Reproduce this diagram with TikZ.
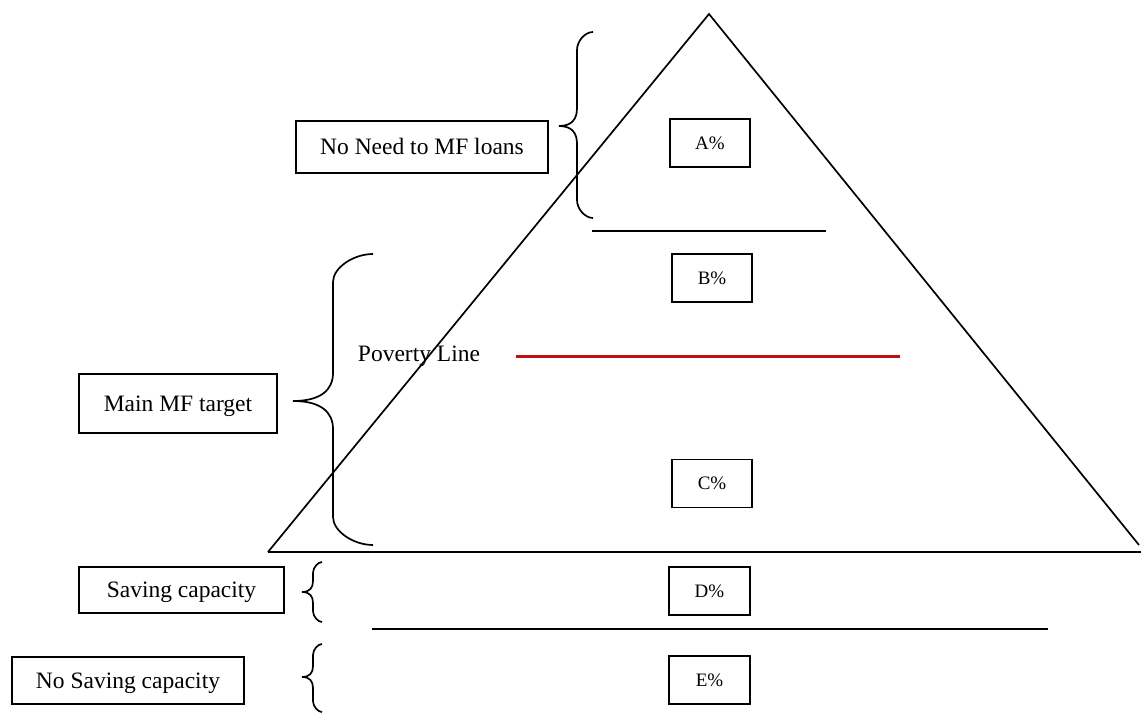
\documentclass[tikz,border=0pt]{standalone}
\usepackage{fontspec}
\setmainfont{Liberation Serif}
\definecolor{povred}{RGB}{190,16,16}
\newcommand{\mybrace}[8]{% xe xv xt ytop ytip ybot rx ry
  \draw[bracestyle] (#1,#4) .. controls (#2+0.5*#7,#4) and (#2,#4+0.5*#8) .. (#2,#4+#8) -- (#2,#5-#8)
    .. controls (#2,#5-0.4*#8) and (#2-0.3*#7,#5) .. (#3,#5) .. controls (#2-0.3*#7,#5) and (#2,#5+0.4*#8) .. (#2,#5+#8)
    -- (#2,#6-#8) .. controls (#2,#6-0.5*#8) and (#2+0.5*#7,#6) .. (#1,#6);}
\begin{document}
\begin{tikzpicture}[x=1pt,y=-1pt,
  every node/.style={inner sep=0pt},
  bigtext/.style={font=\fontsize{23.5}{28}\selectfont,text height=15.6pt,text depth=0pt},
  bigbox/.style={bigtext,draw,line width=1.7pt},
  pctbox/.style={draw,line width=1.7pt,minimum width=80pt,minimum height=48pt,font=\fontsize{19}{22}\selectfont,text height=12.6pt,text depth=0pt},
  plain/.style={line width=1.7pt},
  bracestyle/.style={line width=1.7pt},
  povline/.style={line width=3pt,draw=povred}]
\useasboundingbox (0,0) rectangle (1141,719);
% triangle
\coordinate (apex) at (709,14);
\coordinate (bl) at (268,552);
\coordinate (br) at (1141,552);
\coordinate (brtip) at (1139,545);
\draw[plain] (bl) -- (apex) -- (brtip);
\draw[plain] (bl) -- (br);
% divider lines
\coordinate (l1a) at (592,231); \coordinate (l1b) at (826,231);
\draw[plain] (l1a) -- (l1b);
\coordinate (pla) at (516,356.5); \coordinate (plb) at (900,356.5);
\draw[povline] (pla) -- (plb);
\coordinate (l2a) at (372,629); \coordinate (l2b) at (1048,629);
\draw[plain] (l2a) -- (l2b);
% percentage boxes
\node[pctbox] (A) at (710,143) {A\%};
\node[pctbox] (B) at (712,278) {B\%};
\node[pctbox] (C) at (712,483.5) {C\%};
\node[pctbox,minimum width=81pt] (D) at (709.5,591) {D\%};
\node[pctbox,minimum width=81pt] (E) at (709.5,680) {E\%};
% labels
\node[bigbox,minimum width=252pt,minimum height=52pt] (noneed) at (422,147) {No Need to MF loans};
\node[bigbox,minimum width=198pt,minimum height=59pt] (main) at (178,403.5) {Main MF target};
\node[bigbox,minimum width=205pt,minimum height=46pt] (saving) at (181.5,590) {Saving capacity};
\node[bigbox,minimum width=232pt,minimum height=47pt] (nosaving) at (128,680.5) {No Saving capacity};
\node[bigtext] (pov) at (419,354) {Poverty Line};
% braces
\mybrace{593}{577}{559}{32}{126}{218}{16}{18}
\mybrace{373}{333}{293}{254}{401}{545}{40}{28}
\mybrace{322}{313}{302}{562}{592}{622}{10}{11}
\mybrace{322}{313}{302}{644}{677}{712}{10}{11}
\end{tikzpicture}
\end{document}
